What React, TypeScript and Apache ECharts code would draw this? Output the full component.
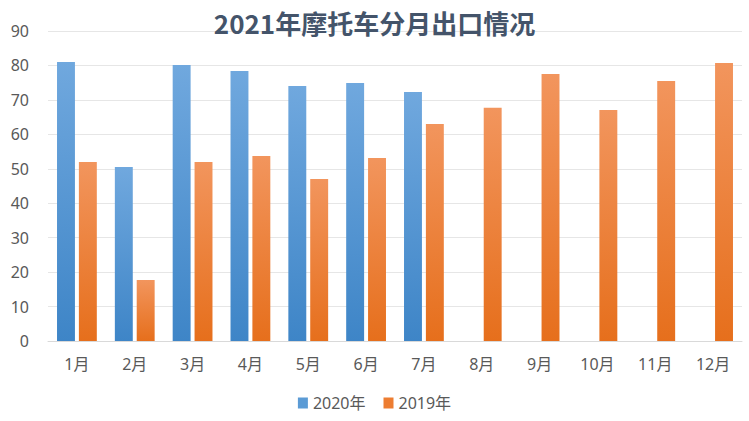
import React, { useEffect, useRef } from "react";
import * as echarts from "echarts";

const categories = ["1月", "2月", "3月", "4月", "5月", "6月", "7月", "8月", "9月", "10月", "11月", "12月"];
const series2020 = [81.0, 50.5, 80.1, 78.4, 74.0, 74.9, 72.3, null, null, null, null, null];
const series2019 = [52.0, 17.7, 52.0, 53.7, 47.0, 53.1, 63.0, 67.7, 77.5, 67.1, 75.5, 80.7];
const yTicks = [0, 10, 20, 30, 40, 50, 60, 70, 80, 90];

const grad = (top: string, bottom: string) =>
  new echarts.graphic.LinearGradient(0, 0, 0, 1, [
    { offset: 0, color: top },
    { offset: 1, color: bottom },
  ]);

export default function App() {
  const ref = useRef<HTMLDivElement>(null);
  useEffect(() => {
    if (!ref.current) return;
    const chart = echarts.init(ref.current, undefined, { renderer: "svg" });
    const font = "'Noto Sans', 'Noto Sans CJK SC', sans-serif";
    chart.setOption({
      animation: false,
      backgroundColor: "#ffffff",
      title: {
        text: "2021年摩托车分月出口情况",
        left: "center",
        top: 4,
        textStyle: {
          fontFamily: "'Noto Sans CJK SC', sans-serif",
          fontSize: 26,
          fontWeight: "bold",
          color: "#44546a",
        },
      },
      legend: {
        bottom: 5,
        left: "center",
        itemWidth: 10,
        itemHeight: 11,
        itemGap: 18,
        icon: "rect",
        textStyle: { fontFamily: font, fontSize: 16, color: "#595959" },
        data: [
          { name: "2020年", itemStyle: { color: "#5b9bd5" } },
          { name: "2019年", itemStyle: { color: "#ed7d31" } },
        ],
      },
      grid: { left: 48, right: 7, top: 31, bottom: 80, containLabel: false },
      xAxis: {
        type: "category",
        data: categories,
        axisLine: { show: true, lineStyle: { color: "#d9d9d9" } },
        axisTick: { show: false },
        axisLabel: { fontFamily: font, fontSize: 16, color: "#595959", margin: 15 },
      },
      yAxis: {
        type: "value",
        min: yTicks[0],
        max: yTicks[yTicks.length - 1],
        interval: 10,
        axisLine: { show: false },
        axisTick: { show: false },
        splitLine: { lineStyle: { color: "#e6e6e6" } },
        axisLabel: { fontFamily: font, fontSize: 16, color: "#595959", margin: 19 },
      },
      series: [
        {
          name: "2020年",
          type: "bar",
          data: series2020,
          barWidth: "31%",
          barGap: "22%",
          itemStyle: { color: grad("#70a8de", "#3e85c7") },
        },
        {
          name: "2019年",
          type: "bar",
          data: series2019,
          barWidth: "31%",
          itemStyle: { color: grad("#f2955d", "#e66f1c") },
        },
      ],
    });
    return () => chart.dispose();
  }, []);
  return (
    <div
      ref={ref}
      style={{ position: "fixed", left: 0, top: 0, width: 749, height: 421 }}
    />
  );
}
